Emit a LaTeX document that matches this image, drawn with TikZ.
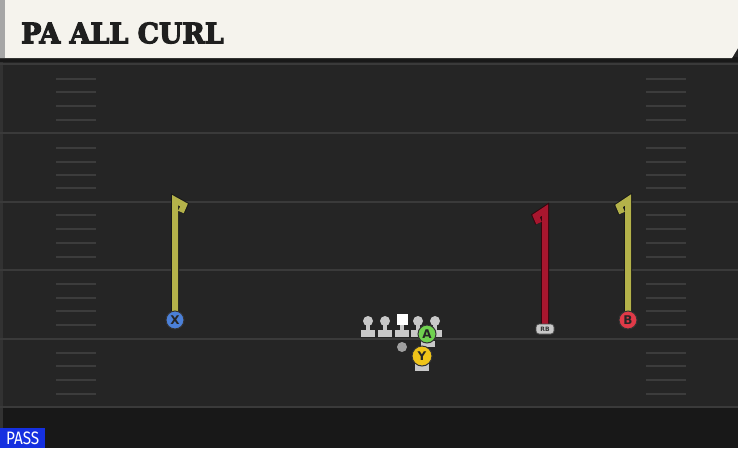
\documentclass[tikz,border=0pt]{standalone}
\usepackage{fontspec}
\setmainfont{DejaVu Serif}
\newfontfamily\titlefont[FakeBold=4]{DejaVu Serif Bold}
\newfontfamily\passfont{Fira Sans}
\newfontfamily\lblfont{DejaVu Sans Bold}
\definecolor{fieldbg}{HTML}{252525}
\definecolor{yardc}{HTML}{3A3A3A}
\definecolor{hashc}{HTML}{3C3C3C}
\definecolor{headc}{HTML}{F5F3ED}
\definecolor{routey}{HTML}{B4B24A}
\definecolor{router}{HTML}{A8162E}
\definecolor{xblue}{HTML}{4B80D8}
\definecolor{bred}{HTML}{E03A48}
\definecolor{agreen}{HTML}{6FD14F}
\definecolor{yyel}{HTML}{F0C419}
\definecolor{olc}{HTML}{C8C8C8}
\definecolor{passblue}{HTML}{1530E0}
\tikzset{
  yard/.style={draw=yardc, line width=2},
  hashm/.style={draw=hashc, line width=2},
  routeout/.style={draw=black!90, line width=8, line join=miter},
  routein/.style={line width=6, line join=miter},
  player/.style={circle, minimum size=18, inner sep=0, draw=black!80, line width=1, font=\lblfont\fontsize{12}{12}\selectfont, text=black!85},
  olpart/.style={fill=olc, draw=none},
}
\begin{document}
\begin{tikzpicture}[x=1pt,y=-1pt]
\useasboundingbox (0,0) rectangle (738,448);
% field
\fill[fieldbg] (0,0) rectangle (738,448);
\fill[black!35!fieldbg] (0,408) rectangle (738,448);
\fill[white!6!fieldbg] (0,62) rectangle (3,448);
% yard lines
\foreach \y in {133,201.5,270,338.5,407}{
  \draw[yard] (0,\y) -- (738,\y);
}
\draw[yard] (0,64) -- (738,64);
% hash marks
\foreach \y in {79,92,106,120,147.5,161.5,174.5,188,215,229,243,256.5,284,297.5,311,325,352.5,366,380,393.5}{
  \draw[hashm] (56,\y) -- (96,\y);
  \draw[hashm] (646,\y) -- (686,\y);
}
% header
\fill[black!90] (0,57) rectangle (738,62);
\fill[headc] (0,0) -- (738,0) -- (738,48) -- (732,58) -- (0,58) -- cycle;
\fill[gray!70] (0,0) rectangle (5,58);
\node[anchor=west, inner sep=0, font=\titlefont\fontsize{28}{28}\selectfont, text=black!88, xscale=0.96] (title) at (21,33) {PA ALL CURL};
% routes
\coordinate (xs) at (175,320);
\coordinate (xt) at (175,200);
\coordinate (xh1) at (184,205);
\coordinate (xh2) at (181,212);
\draw[routeout] (xs) -- (xt) -- (xh1) -- (xh2);
\draw[routein, draw=routey] (xs) -- (xt) -- (xh1) -- (xh2);
\coordinate (bs) at (628,320);
\coordinate (bt) at (628,200);
\coordinate (bh1) at (619,206);
\coordinate (bh2) at (622,213);
\draw[routeout] (bs) -- (bt) -- (bh1) -- (bh2);
\draw[routein, draw=routey] (bs) -- (bt) -- (bh1) -- (bh2);
\coordinate (rs) at (545,328);
\coordinate (rt) at (545,210);
\coordinate (rh1) at (536,216);
\coordinate (rh2) at (539,223);
\draw[routeout, draw=black!70!router] (rs) -- (rt) -- (rh1) -- (rh2);
\draw[routein, draw=router] (rs) -- (rt) -- (rh1) -- (rh2);
% players
\node[player, fill=xblue] (X) at (xs) {X};
\node[player, fill=bred] (B) at (bs) {B};
\node[rounded corners=3, fill=olc, draw=black!70, line width=0.8, minimum width=18, minimum height=10, inner sep=0, font=\lblfont\fontsize{6}{6}\selectfont, text=black!80] (RB) at (545,329) {RB};
% offensive line
\foreach \x/\n in {368/LT,385/LG,418/RG,435/RT}{
  \fill[olpart] (\x-2,322) rectangle (\x+2,332);
  \fill[olpart] (\x-7,330) rectangle (\x+7,337);
  \node[circle, fill=olc, minimum size=10, inner sep=0] (\n) at (\x,321) {};
}
\fill[olpart] (402-2,322) rectangle (402+2,332);
\fill[olpart] (402-7,330) rectangle (402+7,337);
\node[fill=white, minimum size=11, inner sep=0] (C) at (402,319) {};
% QB dot
\node[circle, fill=gray!75, minimum size=10, inner sep=0] (QB) at (402,347) {};
% A and Y
\fill[olpart] (421,341) rectangle (435,347);
\node[player, fill=agreen] (A) at (427,334) {A};
\fill[olpart] (415,364) rectangle (429,371);
\node[player, fill=yyel, minimum size=20] (Y) at (422,356) {Y};
% PASS
\node[fill=passblue, anchor=south west, minimum width=45, minimum height=20, inner sep=0, text=white, font=\passfont\fontsize{18}{18}\selectfont] (pass) at (0,448) {\scalebox{0.85}[1]{PASS}};
\end{tikzpicture}
\end{document}
